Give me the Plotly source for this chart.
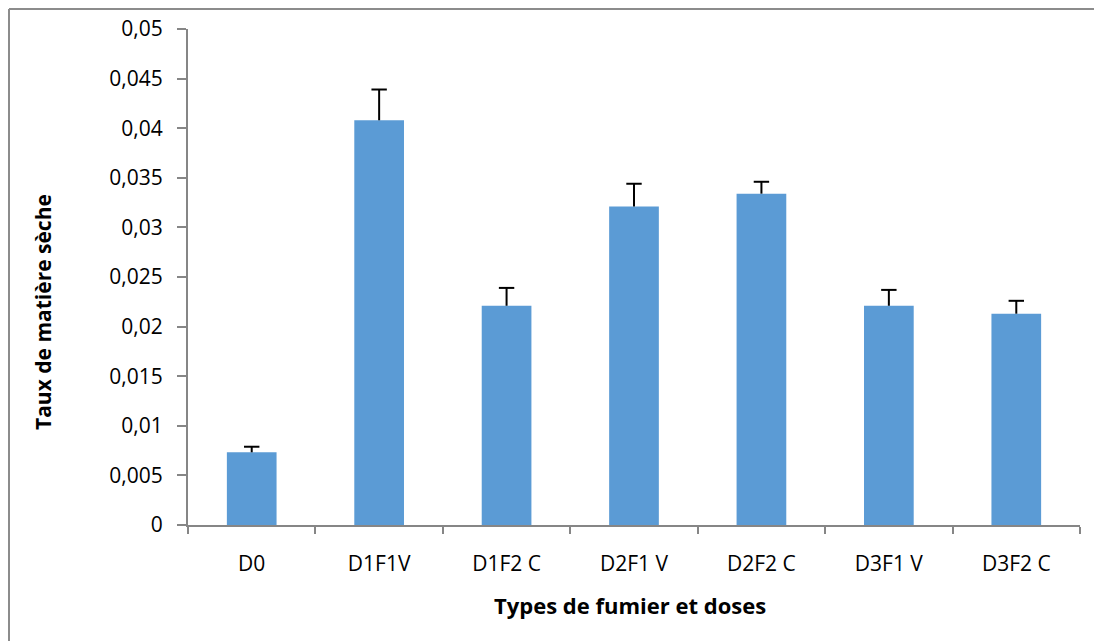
import plotly.graph_objects as go

categories = ["D0", "D1F1V", "D1F2 C", "D2F1 V", "D2F2 C", "D3F1 V", "D3F2 C"]
taux = [0.00733, 0.0408, 0.0221, 0.0321, 0.0334, 0.0221, 0.0213]
erreur = [0.00056, 0.0031, 0.0018, 0.0023, 0.0012, 0.0016, 0.0013]
y_ticks = [0, 0.005, 0.01, 0.015, 0.02, 0.025, 0.03, 0.035, 0.04, 0.045, 0.05]
y_tick_labels = ["0", "0,005", "0,01", "0,015", "0,02", "0,025", "0,03", "0,035", "0,04", "0,045", "0,05"]

# la page html ajoute 8px de marge au body : on travaille en coordonnées décalées
OFF = 8
W, H = 1102 - OFF, 641 - OFF
L, T = 188 - OFF, 29 - OFF
pw, ph = 892, 496
R, B = W - L - pw, H - T - ph

def px_x(x):
    return (x - OFF - L) / pw

def px_y(y):
    return (T + ph - (y - OFF)) / ph

fig = go.Figure()

fig.add_trace(go.Bar(
    x=categories,
    y=taux,
    marker=dict(color="#5B9BD5", line=dict(width=0)),
    error_y=dict(
        type="data",
        symmetric=False,
        array=erreur,
        arrayminus=[0] * len(erreur),
        color="#000000",
        thickness=2,
        width=0,
    ),
    showlegend=False,
))

# capuchons des barres d'erreur (seulement en haut)
fig.add_trace(go.Scatter(
    x=categories,
    y=[v + e for v, e in zip(taux, erreur)],
    mode="markers",
    marker=dict(symbol="line-ew", size=11, line=dict(color="#000000", width=2)),
    showlegend=False,
    hoverinfo="skip",
))

axis_grey = "#868686"
tick_font = dict(family="Open Sans", size=21, color="#000000")

fig.update_layout(
    width=W,
    height=H,
    margin=dict(l=L, r=R, t=T, b=B),
    plot_bgcolor="white",
    paper_bgcolor="white",
    bargap=0.61,
    font=tick_font,
)

fig.update_xaxes(
    automargin=False,
    showgrid=False,
    showline=True,
    linecolor=axis_grey,
    linewidth=2,
    ticks="outside",
    tickson="boundaries",
    ticklen=7,
    tickwidth=2,
    tickcolor=axis_grey,
    ticklabelstandoff=19,
    tickfont=tick_font,
)

fig.update_yaxes(
    automargin=False,
    range=[0, 0.05],
    showgrid=False,
    zeroline=False,
    showline=True,
    linecolor=axis_grey,
    linewidth=2,
    ticks="outside",
    ticklen=9,
    tickwidth=2,
    tickcolor=axis_grey,
    tickvals=y_ticks,
    ticktext=y_tick_labels,
    ticklabelstandoff=10,
    tickfont=tick_font,
)

# titres des axes
fig.add_annotation(
    text="<b>Types de fumier et doses</b>",
    xref="paper", yref="paper",
    x=px_x(630), y=px_y(605),
    xanchor="center", yanchor="middle",
    showarrow=False,
    font=dict(family="Open Sans", size=22, color="#000000"),
)
fig.add_annotation(
    text="<b>Taux de matière sèche</b>",
    xref="paper", yref="paper",
    x=px_x(43), y=px_y(312),
    xanchor="center", yanchor="middle",
    textangle=-90,
    showarrow=False,
    font=dict(family="Open Sans", size=21, color="#000000"),
)

# bordure du cadre (haut et gauche)
x_left = px_x(9)
x_right = px_x(1102)
y_top = px_y(9)
y_bot = px_y(641)
fig.add_shape(type="line", xref="paper", yref="paper",
              x0=x_left, x1=x_right, y0=y_top, y1=y_top,
              line=dict(color="#8c8c8c", width=2))
fig.add_shape(type="line", xref="paper", yref="paper",
              x0=x_left, x1=x_left, y0=y_top, y1=y_bot,
              line=dict(color="#8c8c8c", width=2))

fig.write_html("out.html")
